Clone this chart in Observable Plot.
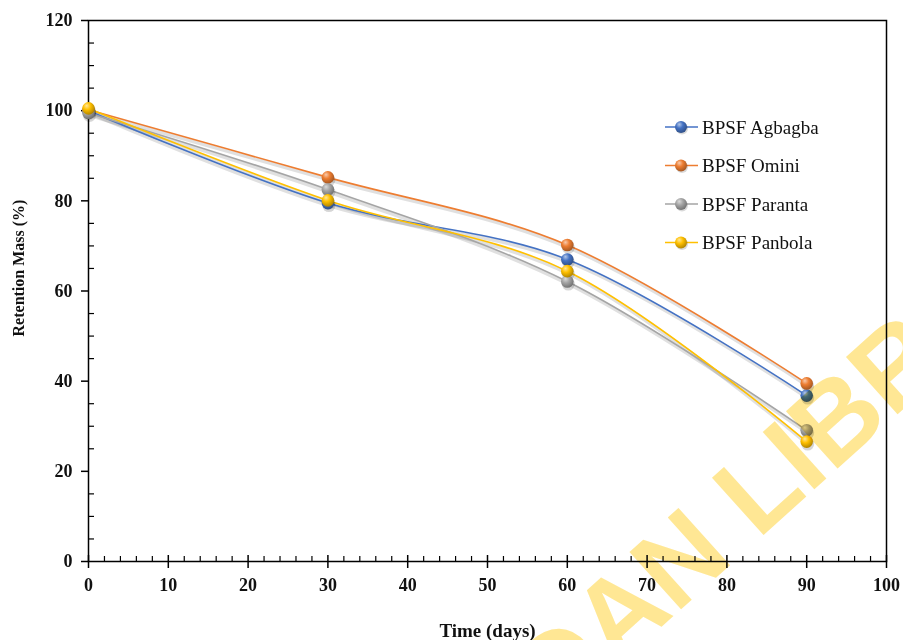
<!DOCTYPE html>
<html>
<head>
<meta charset="utf-8">
<script src="https://cdn.jsdelivr.net/npm/d3@7"></script>
<script src="https://cdn.jsdelivr.net/npm/@observablehq/plot@0.6"></script>
<style>
  html, body { margin: 0; padding: 0; background: #fff; }
  #chart { position: relative; width: 903px; height: 640px; overflow: hidden; }
</style>
</head>
<body>
<div id="chart"></div>
<script>
// ---- data ----
const days = [0, 30, 60, 90];
const agbagba = [100.0, 79.5, 67.0, 36.8];
const omini   = [100.2, 85.2, 70.2, 39.5];
const paranta = [99.5, 82.5, 62.1, 29.1];
const panbola = [100.5, 80.1, 64.4, 26.6];
const seriesNames = ["BPSF Agbagba", "BPSF Omini", "BPSF Paranta", "BPSF Panbola"];
const seriesValues = [agbagba, omini, paranta, panbola];
const seriesColors = ["#4472C4", "#ED7D31", "#A5A5A5", "#FFC000"];
const xTicks = [0, 10, 20, 30, 40, 50, 60, 70, 80, 90, 100];
const xMinorTicks = d3.range(0, 101, 2).filter(d => d % 10 !== 0);
const yTicks = [0, 20, 40, 60, 80, 100, 120];
const yMinorTicks = d3.range(0, 121, 5).filter(d => d % 20 !== 0);
const xTitle = "Time (days)";
const yTitle = "Retention Mass (%)";
const watermarkA = "UNIVERSITY OF IBADAN";
const watermarkB = "LIBRARY";

const rows = seriesNames.flatMap((name, s) =>
  days.map((d, i) => ({series: name, idx: s, day: d, value: seriesValues[s][i]})));

const serif = "'Liberation Serif', 'Times New Roman', serif";

const shadowMarks = seriesNames.map((name, s) =>
  Plot.line(rows.filter(r => r.idx === s), {
    x: "day", y: "value", stroke: "#000", strokeOpacity: 0.12, strokeWidth: 3.5,
    dx: 1, dy: 2.5, curve: "catmull-rom"
  }));
const lineMarks = seriesNames.map((name, s) =>
  Plot.line(rows.filter(r => r.idx === s), {
    x: "day", y: "value", stroke: seriesColors[s], strokeWidth: 1.6,
    curve: "catmull-rom"
  }));
const dotShadowMarks = seriesNames.map((name, s) =>
  Plot.dot(rows.filter(r => r.idx === s), {
    x: "day", y: "value", r: 6.5, fill: "#000", fillOpacity: 0.16, dx: 1, dy: 2.5
  }));
const dotMarks = seriesNames.map((name, s) =>
  Plot.dot(rows.filter(r => r.idx === s), {
    x: "day", y: "value", r: 6.3, fill: `url(#ball-${s})`, stroke: "none"
  }));

const plot = Plot.plot({
  width: 903,
  height: 640,
  marginLeft: 88,
  marginRight: 17,
  marginTop: 20,
  marginBottom: 79,
  x: {domain: [0, 100]},
  y: {domain: [0, 120]},
  style: {fontFamily: serif, background: "white", color: "#111", overflow: "visible"},
  marks: [
    Plot.frame({stroke: "#000", strokeWidth: 1.5}),
    // major x ticks crossing the axis
    Plot.ruleX(xTicks, {x: d => d, y1: 0, y2: 0, insetTop: -6, insetBottom: -7, stroke: "#000", strokeWidth: 1.5}),
    // minor x ticks inside
    Plot.ruleX(xMinorTicks, {x: d => d, y1: 0, y2: 0, insetTop: -5, stroke: "#000", strokeWidth: 1.2}),
    // major y ticks outside
    Plot.ruleY(yTicks, {y: d => d, x1: 0, x2: 0, insetLeft: -7, stroke: "#000", strokeWidth: 1.5}),
    // minor y ticks inside
    Plot.ruleY(yMinorTicks, {y: d => d, x1: 0, x2: 0, insetRight: -6, stroke: "#000", strokeWidth: 1.2}),
    Plot.axisX({ticks: xTicks, tickSize: 0, tickPadding: 17, fontSize: 18, fontWeight: "bold", label: null}),
    Plot.axisY({ticks: yTicks, tickSize: 0, tickPadding: 16, fontSize: 18, fontWeight: "bold", label: null}),
    Plot.text([xTitle], {frameAnchor: "bottom", dy: 69, fontSize: 19, fontWeight: "bold", lineAnchor: "middle", textAnchor: "middle"}),
    Plot.text([yTitle], {frameAnchor: "left", dx: -70, dy: -23, rotate: -90, fontSize: 16, fontWeight: "bold", lineAnchor: "middle", textAnchor: "middle"}),
    ...shadowMarks,
    ...lineMarks,
    ...dotShadowMarks,
    ...dotMarks
  ]
});

const svg = d3.select(plot);

// sphere gradients
const defs = svg.insert("defs", ":first-child");
seriesColors.forEach((c, s) => {
  const base = d3.color(c);
  const g = defs.append("radialGradient")
    .attr("id", `ball-${s}`).attr("cx", "40%").attr("cy", "35%").attr("r", "65%").attr("fx", "35%").attr("fy", "28%");
  g.append("stop").attr("offset", "0%").attr("stop-color", d3.interpolateRgb(c, "#fff")(0.6));
  g.append("stop").attr("offset", "45%").attr("stop-color", c);
  g.append("stop").attr("offset", "100%").attr("stop-color", base.darker(1.0).formatHex());
});

// legend
const legend = svg.append("g").attr("class", "legend").attr("text-anchor", "start");
const legendY0 = 127, legendStep = 38.5, legendX = 665;
seriesNames.forEach((name, s) => {
  const y = legendY0 + s * legendStep;
  legend.append("line").attr("x1", legendX).attr("x2", legendX + 33)
    .attr("y1", y).attr("y2", y).attr("stroke", seriesColors[s]).attr("stroke-width", 1.6);
  legend.append("circle").attr("cx", legendX + 17).attr("cy", y + 1.5).attr("r", 6)
    .attr("fill", "#000").attr("fill-opacity", 0.15);
  legend.append("circle").attr("cx", legendX + 16).attr("cy", y).attr("r", 6)
    .attr("fill", `url(#ball-${s})`);
  legend.append("text").attr("x", legendX + 37).attr("y", y).attr("dy", "0.35em")
    .attr("text-anchor", "start")
    .attr("font-family", serif).attr("font-size", 19).attr("fill", "#111").text(name);
});

// watermark (diagonal)
const wm = svg.append("g")
  .attr("transform", "translate(758,540) rotate(-42)")
  .style("mix-blend-mode", "multiply")
  .attr("font-family", "'Liberation Sans', Arial, sans-serif")
  .attr("font-weight", "bold").attr("font-size", 112).attr("fill", "#ffe794");
wm.append("text").attr("x", -30).attr("text-anchor", "end").text(watermarkA);
wm.append("text").attr("x", 0).attr("text-anchor", "start").text(watermarkB);

document.getElementById("chart").appendChild(plot);
</script>
</body>
</html>
